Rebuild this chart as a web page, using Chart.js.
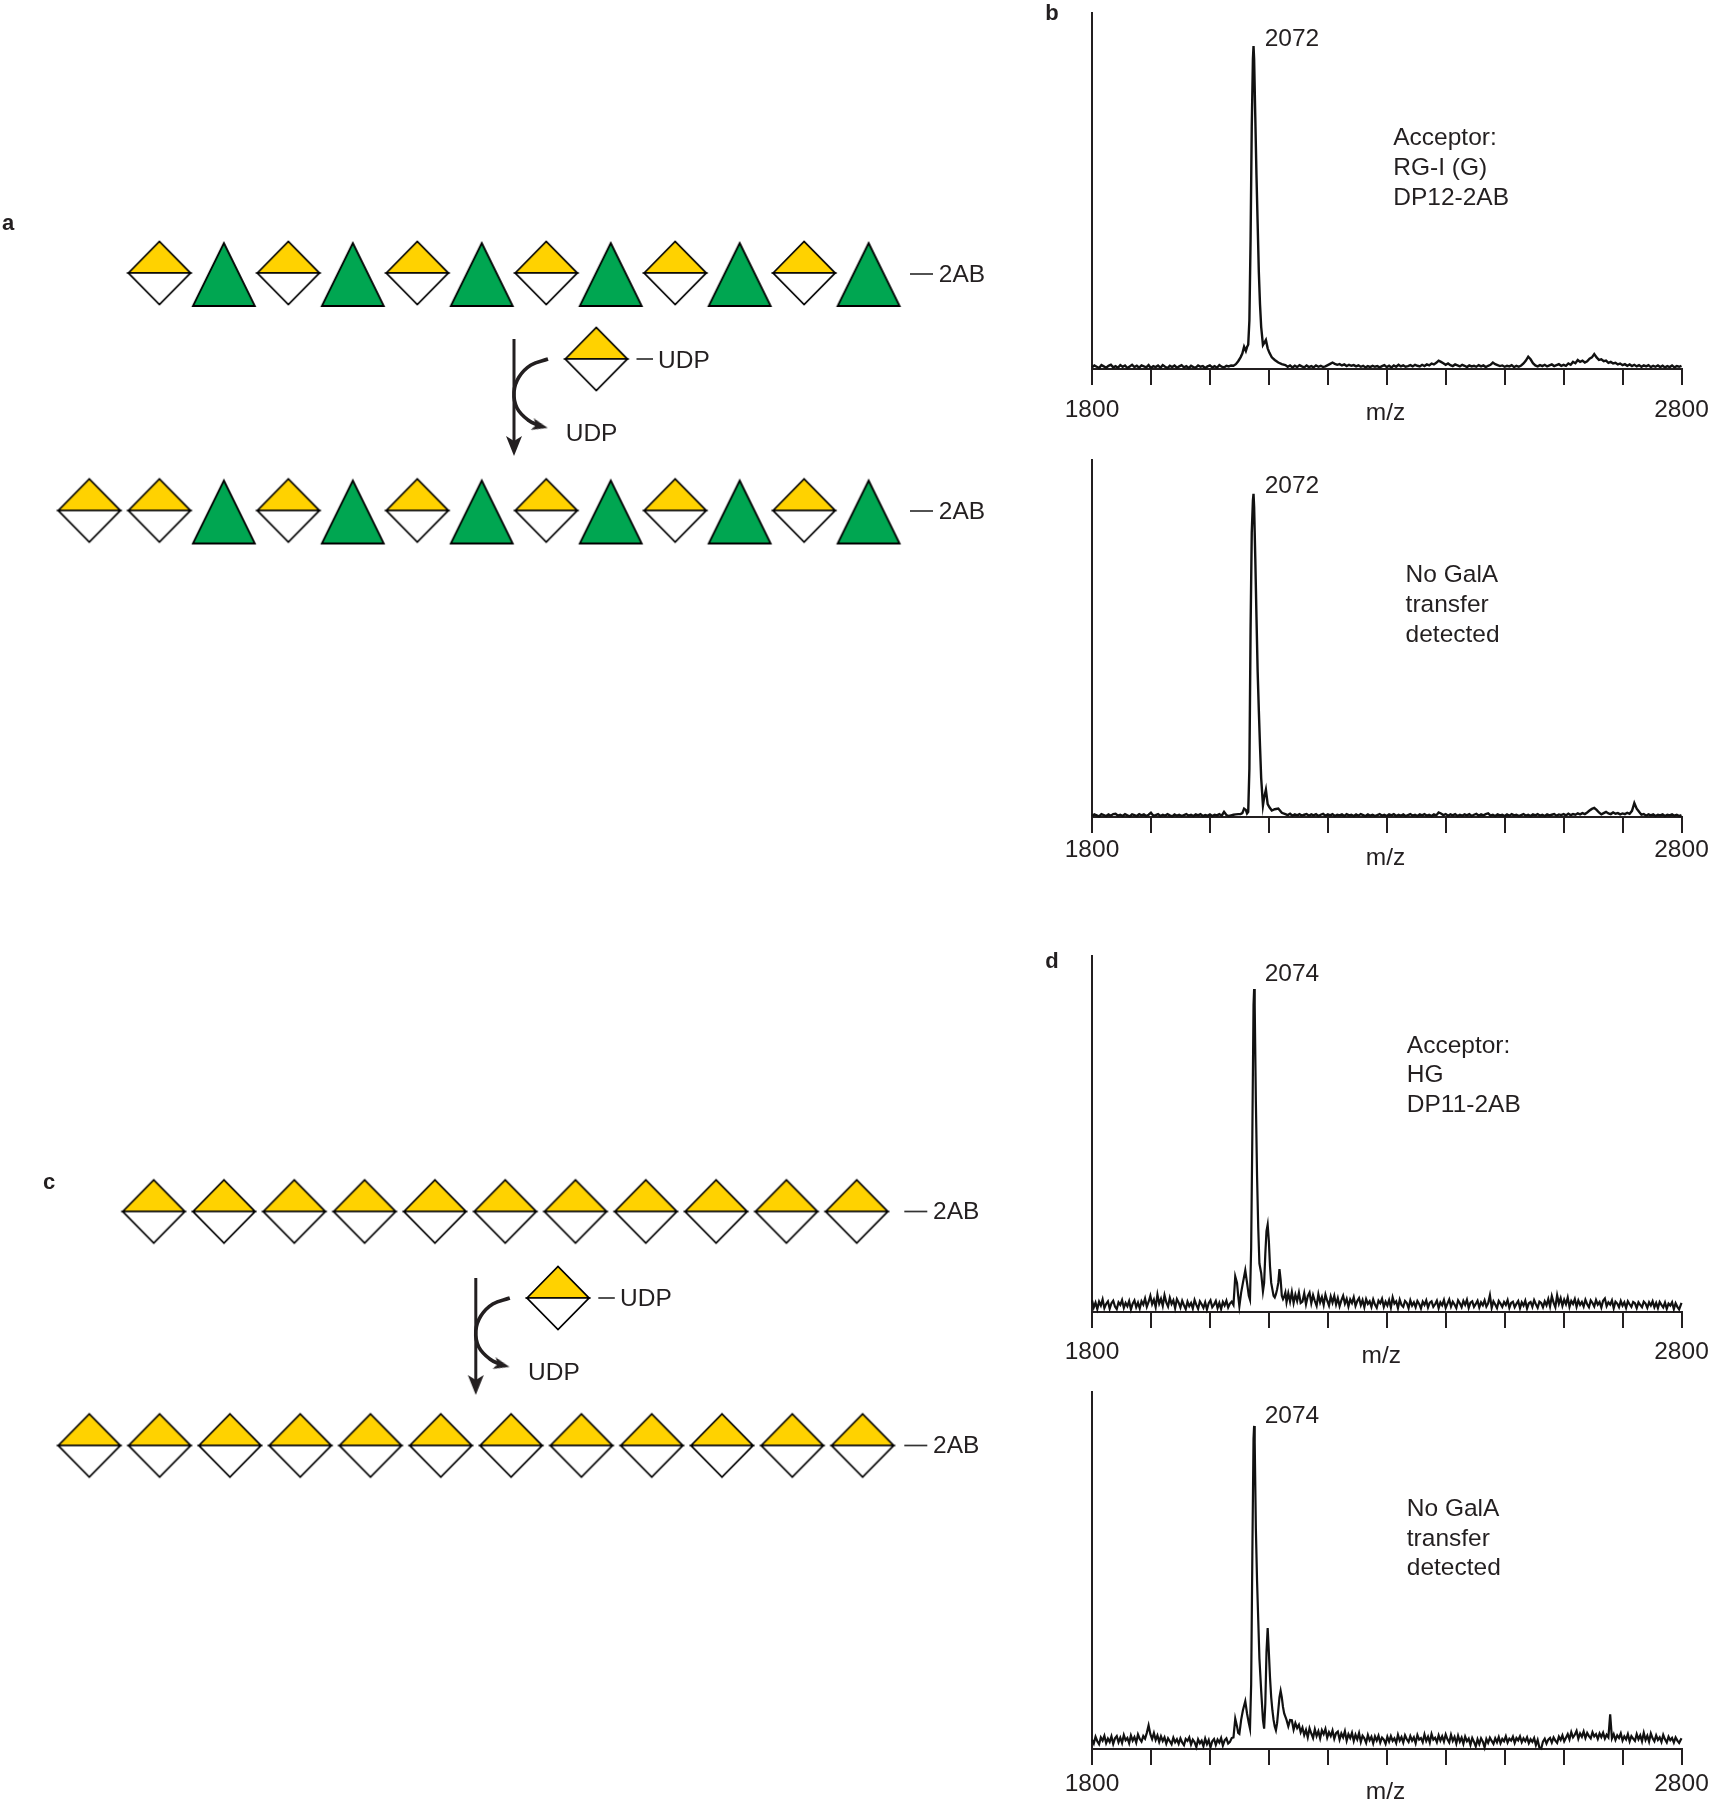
<!DOCTYPE html>
<html>
<head>
<meta charset="utf-8">
<title>GalA transfer</title>
<script src="https://cdn.jsdelivr.net/npm/chart.js@4"></script>
<style>
  html, body { margin: 0; background: #fff; overflow: hidden; height: 1800px; }
  canvas { position: absolute; display: block; }
</style>
</head>
<body>
<canvas id="scheme"></canvas>
<canvas id="specB1"></canvas>
<canvas id="specB2"></canvas>
<canvas id="specD1"></canvas>
<canvas id="specD2"></canvas>
<script>
// sugar chains, reducing end on the right
const rgAcceptor = ["GalA", "Rha", "GalA", "Rha", "GalA", "Rha", "GalA", "Rha", "GalA", "Rha", "GalA", "Rha"];
const rgProduct = ["GalA", "GalA", "Rha", "GalA", "Rha", "GalA", "Rha", "GalA", "Rha", "GalA", "Rha", "GalA", "Rha"];
const hgAcceptor = ["GalA", "GalA", "GalA", "GalA", "GalA", "GalA", "GalA", "GalA", "GalA", "GalA", "GalA"];
const hgProduct = ["GalA", "GalA", "GalA", "GalA", "GalA", "GalA", "GalA", "GalA", "GalA", "GalA", "GalA", "GalA"];
const donor = ["GalA"];

const tickLabels = { 1800: "1800", 2800: "2800" };

const bMz = [
  1800, 1804, 1808, 1812, 1816, 1820, 1824, 1828, 1832, 1836,
  1840, 1844, 1848, 1852, 1856, 1860, 1864, 1868, 1872, 1876,
  1880, 1884, 1888, 1892, 1896, 1900, 1904, 1908, 1912, 1916,
  1920, 1924, 1928, 1932, 1936, 1940, 1944, 1948, 1952, 1956,
  1960, 1964, 1968, 1972, 1976, 1980, 1984, 1988, 1992, 1996,
  2000, 2004, 2008, 2012, 2016, 2020, 2024, 2028, 2032, 2036,
  2040, 2044, 2048, 2052, 2055, 2058, 2061, 2063, 2065, 2067,
  2069, 2071, 2073, 2074, 2075, 2077, 2079, 2081, 2083, 2085,
  2087, 2090, 2092, 2095, 2098, 2101, 2105, 2110, 2116, 2122,
  2128, 2132, 2136, 2140, 2144, 2148, 2152, 2156, 2160, 2164,
  2168, 2172, 2176, 2180, 2184, 2188, 2192, 2196, 2200, 2204,
  2208, 2212, 2216, 2220, 2224, 2228, 2232, 2236, 2240, 2244,
  2248, 2252, 2256, 2260, 2264, 2268, 2272, 2276, 2280, 2284,
  2288, 2292, 2296, 2300, 2304, 2308, 2312, 2316, 2320, 2324,
  2328, 2332, 2336, 2340, 2344, 2348, 2352, 2356, 2360, 2364,
  2368, 2372, 2376, 2380, 2384, 2388, 2392, 2396, 2400, 2404,
  2408, 2412, 2416, 2420, 2424, 2428, 2432, 2436, 2440, 2444,
  2448, 2452, 2456, 2460, 2464, 2468, 2472, 2476, 2480, 2484,
  2488, 2492, 2496, 2500, 2504, 2508, 2512, 2516, 2520, 2524,
  2528, 2532, 2536, 2540, 2544, 2548, 2552, 2556, 2560, 2564,
  2568, 2572, 2576, 2580, 2584, 2588, 2592, 2596, 2600, 2604,
  2608, 2612, 2616, 2620, 2624, 2628, 2632, 2636, 2640, 2644,
  2648, 2652, 2656, 2660, 2664, 2668, 2672, 2676, 2680, 2684,
  2688, 2692, 2696, 2700, 2704, 2708, 2712, 2716, 2720, 2724,
  2728, 2732, 2736, 2740, 2744, 2748, 2752, 2756, 2760, 2764,
  2768, 2772, 2776, 2780, 2784, 2788, 2792, 2796, 2800
];
const b1Intensity = [
  0.5, 1.1, 0.7, 0.3, 1.2, 0.8, 0.4, 1.0, 1.3, 0.5,
  0.9, 0.4, 1.2, 0.7, 1.1, 0.3, 0.8, 1.3, 0.6, 1.0,
  0.4, 1.1, 0.8, 0.5, 1.2, 0.3, 0.9, 0.6, 1.1, 0.4,
  1.2, 0.7, 0.3, 1.0, 0.6, 1.1, 0.4, 0.8, 1.2, 0.5,
  0.9, 0.3, 1.0, 0.6, 0.4, 1.1, 0.7, 0.9, 0.3, 0.8,
  1.1, 0.5, 0.9, 0.4, 1.2, 0.7, 0.5, 1.0, 0.8, 1.1,
  1.0, 1.5, 2.4, 3.6, 4.8, 6.9, 5.6, 6.8, 7.5, 15,
  40, 75, 96, 100, 96, 78, 60, 45, 30, 20,
  13, 7.4, 8, 9, 6.4, 5, 3.6, 2.8, 2.0, 1.5,
  1.2, 0.7, 1.1, 0.5, 1.0, 0.6, 1.2, 0.8, 0.5, 1.1,
  0.6, 0.9, 0.5, 1.1, 0.7, 1.0, 0.6, 0.8, 1.2, 1.6,
  2.0, 1.6, 1.3, 1.5, 1.1, 1.4, 0.9, 1.3, 1.0, 1.2,
  0.8, 1.1, 0.7, 1.0, 0.5, 0.9, 0.6, 1.0, 0.7, 0.9,
  0.5, 0.9, 1.2, 0.6, 1.0, 0.5, 1.1, 0.7, 1.3, 0.8,
  1.1, 0.7, 0.9, 1.2, 0.8, 1.3, 1.0, 0.8, 1.3, 0.9,
  1.4, 1.1, 1.7, 1.4, 1.9, 2.6, 2.2, 1.8, 1.3, 1.7,
  1.2, 0.9, 1.4, 1.1, 0.8, 1.3, 1.0, 0.6, 1.1, 0.8,
  1.0, 0.7, 1.2, 0.8, 1.1, 0.6, 1.0, 1.3, 2.0, 1.5,
  1.2, 0.9, 1.1, 0.7, 1.0, 0.8, 1.2, 0.6, 1.0, 0.7,
  1.1, 1.7, 2.6, 3.8, 3.0, 1.8, 1.1, 0.8, 1.2, 0.9,
  1.3, 0.8, 1.1, 1.4, 0.9, 1.2, 1.5, 1.0, 1.3, 1.0,
  1.7, 1.3, 2.2, 1.8, 2.8, 2.2, 2.6, 2.0, 2.4, 3.2,
  3.6, 4.6, 3.6, 2.8, 3.0, 2.4, 2.6, 1.9, 2.2, 1.7,
  1.9, 1.4, 1.7, 1.2, 1.5, 1.0, 1.4, 0.9, 1.3, 0.8,
  1.2, 0.7, 1.1, 0.8, 1.2, 0.6, 1.0, 0.7, 1.1, 0.6,
  1.0, 0.5, 0.9, 0.6, 1.1, 0.5, 0.9, 0.7, 1.0
];
const b2Intensity = [
  0.3, 0.8, 0.5, 0.2, 0.9, 0.6, 0.3, 0.8, 0.4, 0.9,
  1.0, 0.4, 0.7, 0.3, 0.9, 0.5, 0.2, 0.8, 0.6, 0.3,
  0.9, 0.5, 0.8, 0.3, 0.7, 1.3, 0.4, 0.6, 0.9, 0.3,
  0.7, 0.4, 0.9, 0.5, 0.2, 0.8, 0.4, 0.7, 0.3, 0.6,
  0.9, 0.4, 0.7, 0.3, 0.8, 0.5, 0.9, 0.3, 0.6, 0.4,
  0.8, 0.3, 0.7, 0.5, 0.9, 0.4, 1.6, 0.6, 0.3, 0.5,
  0.7, 0.8, 0.9, 0.9, 1.2, 2.6, 2.2, 1.1, 1.6, 15,
  58, 88, 98, 100, 96, 80, 62, 45, 33, 22,
  12, 3.6, 6, 8.5, 4, 3, 2, 2.4, 2.6, 1.3,
  0.9, 0.6, 1.0, 0.4, 0.8, 0.5, 0.9, 0.4, 0.7, 0.9,
  0.4, 0.8, 0.5, 0.9, 0.3, 0.7, 1.0, 0.4, 0.8, 0.5,
  0.9, 0.3, 0.7, 0.5, 0.8, 0.3, 0.9, 0.5, 0.7, 0.3,
  0.8, 0.4, 0.9, 0.6, 0.3, 0.8, 0.4, 0.7, 0.3, 0.6,
  0.9, 0.4, 0.7, 0.3, 0.8, 0.5, 0.9, 0.3, 0.7, 0.4,
  0.8, 0.3, 0.6, 0.9, 0.4, 0.7, 0.3, 0.8, 0.5, 0.9,
  0.4, 0.7, 0.3, 0.8, 0.5, 1.4, 1.1, 0.6, 0.9, 0.4,
  0.8, 0.5, 0.9, 0.3, 0.7, 0.4, 0.8, 0.5, 0.9, 0.3,
  0.7, 1.0, 0.4, 0.8, 0.5, 0.9, 1.1, 0.4, 0.7, 0.3,
  0.8, 0.5, 0.7, 0.3, 0.8, 0.4, 0.9, 0.5, 0.7, 0.3,
  0.6, 0.9, 0.4, 0.7, 0.3, 0.8, 0.5, 0.9, 0.4, 0.7,
  0.3, 0.8, 0.5, 0.7, 0.9, 0.4, 0.8, 0.6, 0.9, 0.5,
  1.0, 0.6, 0.9, 0.7, 1.1, 0.8, 1.2, 0.9, 1.4, 2.0,
  2.5, 2.8, 2.2, 1.4, 0.8, 1.2, 1.6, 1.1, 0.9, 1.4,
  1.0, 1.2, 0.8, 1.1, 0.9, 1.3, 1.0, 1.9, 4.3, 2.6,
  1.6, 0.7, 0.9, 0.4, 0.8, 0.5, 0.8, 0.3, 0.7, 0.5,
  0.8, 0.3, 0.7, 0.5, 0.8, 0.4, 0.7, 0.3, 0.6
];

const dMz = [
  1800, 1803, 1806, 1809, 1812, 1815, 1818, 1821, 1824, 1827,
  1830, 1833, 1836, 1839, 1842, 1845, 1848, 1851, 1854, 1857,
  1860, 1863, 1866, 1869, 1872, 1875, 1878, 1881, 1884, 1887,
  1890, 1893, 1896, 1899, 1902, 1905, 1908, 1911, 1914, 1917,
  1920, 1923, 1926, 1929, 1932, 1935, 1938, 1941, 1944, 1947,
  1950, 1953, 1956, 1959, 1962, 1965, 1968, 1971, 1974, 1977,
  1980, 1983, 1986, 1989, 1992, 1995, 1998, 2001, 2004, 2007,
  2010, 2013, 2016, 2019, 2022, 2025, 2028, 2031, 2034, 2037,
  2040, 2043, 2046, 2048, 2050, 2053, 2056, 2060, 2063, 2066,
  2068, 2070, 2072, 2074, 2075, 2076, 2078, 2080, 2082, 2084,
  2087, 2090, 2092, 2094, 2096, 2098, 2100, 2102, 2104, 2106,
  2108, 2110, 2112, 2114, 2116, 2118, 2120, 2122, 2124, 2126,
  2128, 2130, 2133, 2136, 2139, 2142, 2145, 2148, 2151, 2154,
  2157, 2160, 2163, 2166, 2169, 2172, 2175, 2178, 2181, 2184,
  2187, 2190, 2193, 2196, 2199, 2202, 2205, 2208, 2211, 2214,
  2217, 2220, 2223, 2226, 2229, 2232, 2235, 2238, 2241, 2244,
  2247, 2250, 2253, 2256, 2259, 2262, 2265, 2268, 2271, 2274,
  2277, 2280, 2283, 2286, 2289, 2292, 2295, 2298, 2301, 2304,
  2307, 2310, 2313, 2316, 2319, 2322, 2325, 2328, 2331, 2334,
  2337, 2340, 2343, 2346, 2349, 2352, 2355, 2358, 2361, 2364,
  2367, 2370, 2373, 2376, 2379, 2382, 2385, 2388, 2391, 2394,
  2397, 2400, 2403, 2406, 2409, 2412, 2415, 2418, 2421, 2424,
  2427, 2430, 2433, 2436, 2439, 2442, 2445, 2448, 2451, 2454,
  2457, 2460, 2463, 2466, 2469, 2472, 2475, 2478, 2481, 2484,
  2487, 2490, 2493, 2496, 2499, 2502, 2505, 2508, 2511, 2514,
  2517, 2520, 2523, 2526, 2529, 2532, 2535, 2538, 2541, 2544,
  2547, 2550, 2553, 2556, 2559, 2562, 2565, 2568, 2571, 2574,
  2577, 2580, 2583, 2586, 2589, 2592, 2595, 2598, 2601, 2604,
  2607, 2610, 2613, 2616, 2619, 2622, 2625, 2628, 2631, 2634,
  2637, 2640, 2643, 2646, 2649, 2652, 2655, 2658, 2661, 2664,
  2667, 2670, 2673, 2676, 2679, 2682, 2685, 2688, 2691, 2694,
  2697, 2700, 2703, 2706, 2709, 2712, 2715, 2718, 2721, 2724,
  2727, 2730, 2733, 2736, 2739, 2742, 2745, 2748, 2751, 2754,
  2757, 2760, 2763, 2766, 2769, 2772, 2775, 2778, 2781, 2784,
  2787, 2790, 2793, 2796, 2800
];
const d1Intensity = [
  3.6, 1.4, 2.9, 0.9, 3.2, 2.0, 3.9, 1.2, 2.5, 3.3,
  1.0, 2.7, 3.5, 1.7, 0.9, 3.0, 2.2, 3.7, 1.3, 2.8,
  1.8, 3.4, 0.8, 2.6, 3.6, 1.5, 2.9, 1.1, 3.3, 2.3,
  4.2, 1.6, 3.1, 5.0, 2.4, 3.8, 1.5, 5.4, 2.6, 4.1,
  1.9, 5.2, 3.0, 1.7, 4.4, 2.5, 3.6, 1.2, 4.0, 2.9,
  1.4, 3.5, 2.1, 0.9, 3.2, 1.8, 2.8, 1.1, 3.7, 2.2,
  1.0, 3.3, 2.4, 1.3, 3.0, 0.8, 2.7, 3.6, 1.5, 2.3,
  3.4, 1.2, 2.8, 0.9, 3.1, 2.0, 3.5, 1.4, 2.6, 3.2,
  2.2, 11, 9, 5, 1.8, 6, 9, 12.9, 9, 5,
  3.8, 20, 55, 95, 100, 95, 65, 42, 26, 15,
  12, 6.4, 9, 18, 25, 27, 22, 14, 9, 7,
  5, 4.5, 5.5, 7, 9, 13.3, 10, 5, 4, 4.8,
  6, 3, 5.8, 3.2, 6.2, 2.8, 5.4, 3.4, 6, 2.8,
  3.2, 5.8, 2.4, 4.9, 6.0, 2.7, 5.2, 3.4, 1.9, 5.5,
  3.0, 4.6, 2.2, 5.4, 3.5, 2.0, 4.8, 2.9, 5.0, 2.3,
  4.3, 1.8, 3.6, 5.0, 2.6, 4.1, 1.7, 3.9, 2.8, 4.6,
  1.9, 3.4, 4.3, 2.1, 3.7, 1.5, 4.0, 2.5, 3.3, 1.6,
  3.9, 2.3, 1.3, 3.5, 2.7, 4.1, 1.6, 3.2, 2.0, 3.7,
  1.4, 4.5, 2.6, 3.3, 1.2, 3.8, 2.2, 1.6, 3.4, 2.8,
  1.2, 3.6, 2.0, 3.0, 1.5, 3.4, 2.5, 1.1, 3.2, 2.2,
  3.6, 1.4, 2.9, 3.3, 1.6, 2.4, 3.5, 1.2, 3.0, 2.1,
  3.7, 1.3, 2.6, 3.9, 1.7, 3.2, 2.3, 1.2, 3.6, 2.7,
  1.5, 3.4, 2.2, 3.8, 1.3, 2.9, 3.3, 1.6, 2.5, 3.5,
  1.4, 3.0, 2.1, 3.6, 1.7, 2.7, 5.2, 1.3, 3.3, 2.3,
  1.2, 3.4, 2.6, 1.6, 3.1, 2.2, 3.7, 1.3, 2.8, 3.2,
  1.5, 2.5, 3.4, 1.2, 3.0, 2.0, 3.5, 1.1, 2.7, 3.1,
  1.6, 3.7, 2.4, 1.3, 3.2, 2.8, 1.5, 3.3, 2.1, 4.0,
  1.7, 4.9, 2.9, 1.5, 5.2, 2.6, 4.3, 1.9, 3.8, 2.4,
  4.5, 1.6, 3.4, 2.5, 4.0, 1.6, 3.6, 2.2, 3.1, 1.7,
  3.8, 2.4, 1.5, 3.6, 2.8, 1.7, 3.7, 2.3, 3.1, 1.4,
  3.5, 4.2, 1.8, 3.0, 2.3, 3.6, 1.2, 3.2, 2.6, 1.5,
  3.4, 2.0, 3.0, 1.3, 3.3, 2.4, 1.6, 3.1, 2.7, 1.2,
  3.0, 2.2, 1.5, 3.2, 2.6, 1.3, 3.0, 2.0, 3.3, 1.5,
  2.8, 1.2, 3.1, 2.2, 1.4, 2.9, 1.0, 2.6, 2.0, 3.0,
  0.9, 2.7, 1.6, 0.8, 2.8
];
const d2Intensity = [
  2.9, 1.7, 3.8, 2.4, 1.5, 3.6, 2.6, 4.1, 1.8, 3.2,
  2.2, 3.9, 1.6, 3.3, 4.0, 2.1, 3.5, 1.9, 4.3, 2.7,
  3.4, 1.8, 4.2, 2.6, 3.7, 2.0, 4.5, 3.1, 2.3, 4.0,
  3.2, 5.0, 7.3, 4.6, 3.1, 4.9, 2.8, 4.2, 2.2, 3.9,
  2.5, 3.6, 1.7, 3.3, 2.4, 1.5, 3.5, 2.1, 3.0, 1.6,
  3.3, 2.0, 1.2, 3.1, 2.5, 3.6, 1.4, 2.9, 2.1, 0.6,
  3.0, 1.8, 2.6, 0.9, 3.2, 1.5, 2.8, 0.5, 2.4, 3.1,
  1.3, 2.9, 2.0, 3.4, 1.1, 2.7, 3.3, 1.7, 2.2, 3.4,
  3.6, 9.4, 7, 5, 4.7, 9, 12, 14.8, 11, 8,
  6.3, 20, 60, 96, 100, 95, 68, 52, 40, 28,
  18, 9, 6.3, 14, 30, 37.4, 30, 22, 16, 12,
  9, 7, 5.8, 8, 12, 16, 18, 16, 13, 11,
  10, 9, 7, 9, 8.9, 6, 8, 6.5, 7.5, 5.2,
  6.6, 4.3, 5.9, 3.6, 6.4, 4.8, 3.4, 6.1, 4.0, 5.5,
  3.3, 5.8, 4.6, 6.2, 3.5, 5.2, 4.0, 5.7, 3.2, 4.9,
  5.4, 2.9, 4.8, 3.6, 5.5, 2.6, 4.6, 3.4, 5.0, 2.5,
  4.4, 3.0, 4.9, 2.2, 4.1, 3.3, 1.9, 4.3, 2.7, 3.8,
  1.8, 3.9, 2.6, 4.1, 2.0, 3.5, 2.9, 1.6, 3.8, 2.3,
  4.0, 2.5, 3.3, 1.9, 4.4, 2.6, 3.7, 2.0, 4.2, 3.0,
  2.2, 4.0, 2.6, 3.6, 1.8, 4.3, 2.9, 3.4, 2.1, 4.5,
  2.5, 3.8, 2.0, 4.6, 2.9, 3.5, 2.1, 4.2, 2.6, 3.9,
  2.3, 4.5, 3.0, 2.0, 4.4, 2.5, 3.7, 1.7, 4.1, 2.3,
  3.5, 1.6, 3.8, 2.4, 3.2, 1.3, 3.4, 2.2, 0.8, 3.0,
  1.5, 3.3, 2.3, 0.5, 3.1, 1.9, 3.5, 2.5, 1.6, 3.3,
  2.1, 3.7, 1.8, 3.1, 2.4, 3.9, 2.0, 3.2, 2.6, 3.8,
  1.9, 3.4, 2.7, 3.9, 2.1, 3.3, 2.4, 3.6, 1.8, 3.0,
  2.2, 3.4, 1.2, 2.8, 0.4, 0.1, 2.3, 3.2, 1.7, 2.9,
  3.4, 2.0, 3.6, 2.6, 1.9, 3.8, 2.8, 4.2, 2.4, 3.5,
  4.6, 3.0, 5.2, 3.6, 4.4, 5.6, 3.2, 4.8, 3.8, 5.4,
  3.4, 5.0, 4.0, 3.3, 5.2, 3.9, 4.6, 3.1, 4.8, 3.7,
  5.0, 3.2, 4.4, 3.6, 10.7, 3.3, 4.6, 2.8, 4.2, 3.4,
  4.8, 2.6, 3.9, 3.0, 4.6, 2.4, 4.0, 3.2, 2.5, 4.6,
  3.0, 4.2, 2.4, 5.0, 2.8, 4.1, 2.3, 4.8, 3.3, 2.4,
  4.2, 2.8, 3.6, 2.2, 4.4, 3.0, 2.0, 3.8, 2.7, 3.4,
  2.0, 3.6, 2.6, 1.9, 3.3
];

const INK = "#231f20";
const FAMILY = "'Liberation Sans', Arial, sans-serif";
const FONT = "24.5px " + FAMILY;
const BOLD = "bold 22px " + FAMILY;

function makeImage(w, h, paint) {
  const c = document.createElement("canvas");
  c.width = w;
  c.height = h;
  paint(c.getContext("2d"));
  return c;
}

function polygon(ctx, pts, fill, lw) {
  ctx.beginPath();
  pts.forEach((p, i) => (i ? ctx.lineTo(p[0], p[1]) : ctx.moveTo(p[0], p[1])));
  ctx.closePath();
  ctx.fillStyle = fill;
  ctx.fill();
  if (lw) {
    ctx.lineWidth = lw;
    ctx.lineJoin = "miter";
    ctx.strokeStyle = "#000";
    ctx.stroke();
  }
}

const galaImage = makeImage(68, 68, (ctx) => {
  polygon(ctx, [[3, 34], [34, 2.5], [65, 34]], "#ffd200", 1.7);
  polygon(ctx, [[3, 34], [65, 34], [34, 65.5]], "#fff", 1.7);
});
const rhaImage = makeImage(72, 72, (ctx) => {
  polygon(ctx, [[36, 6], [67, 69], [5, 69]], "#00a651", 1.8);
});
// arrowheads point to the right, rotation turns them
const bigHead = makeImage(22, 18, (ctx) => {
  polygon(ctx, [[21, 9], [1, 1], [6, 9], [1, 17]], INK, 0);
});
const smallHead = makeImage(18, 14, (ctx) => {
  polygon(ctx, [[17, 7], [1, 1], [5, 7], [1, 13]], INK, 0);
});

function notesPlugin(notes) {
  // text placed in data units of the chart
  return {
    id: "notes",
    afterDraw(chart) {
      const ctx = chart.ctx;
      ctx.save();
      ctx.fillStyle = INK;
      ctx.textBaseline = "middle";
      notes.forEach((n) => {
        ctx.font = n.font || FONT;
        ctx.textAlign = n.align || "left";
        ctx.fillText(n.text, chart.scales.x.getPixelForValue(n.x), chart.scales.y.getPixelForValue(n.y));
      });
      ctx.restore();
    },
  };
}

function placeCanvas(id, left, top, width, height) {
  const c = document.getElementById(id);
  c.width = width;
  c.height = height;
  c.style.left = left + "px";
  c.style.top = top + "px";
  return c;
}

function plotSpectrum(id, box, mz, intensity, notes) {
  const canvas = placeCanvas(id, 1040, box.top, 672, box.height);
  new Chart(canvas, {
    type: "line",
    data: {
      datasets: [
        {
          data: mz.map((m, i) => ({ x: m, y: intensity[i] })),
          borderColor: "#111",
          borderWidth: box.lineWidth,
          pointRadius: 0,
          tension: 0,
          clip: false,
        },
      ],
    },
    options: {
      responsive: false,
      animation: false,
      layout: { autoPadding: false, padding: { left: 52, right: 30.5, top: box.padTop, bottom: 0 } },
      plugins: { legend: { display: false }, tooltip: { enabled: false } },
      scales: {
        x: {
          type: "linear",
          min: 1800,
          max: 2800,
          grid: { drawOnChartArea: false, drawTicks: true, tickLength: 16, color: INK, lineWidth: 2 },
          border: { display: true, color: INK, width: 2 },
          ticks: {
            stepSize: 100,
            autoSkip: false,
            maxRotation: 0,
            padding: box.tickPad,
            color: INK,
            font: { family: FAMILY, size: 24.5 },
            callback: (v) => tickLabels[v] || "",
          },
          afterFit: (s) => {
            s.height = box.axisHeight;
            s.paddingLeft = 0;
            s.paddingRight = 0;
          },
        },
        y: {
          min: 0,
          max: box.yMax,
          grid: { display: false },
          ticks: { display: false },
          border: { display: true, color: INK, width: 2 },
          afterFit: (s) => {
            s.width = 0;
          },
        },
      },
    },
    plugins: [notesPlugin(notes)],
  });
}

function chainDatasets(rows) {
  // one point per residue, GalA and Rha kept apart because of their symbols
  const gala = [];
  const rha = [];
  rows.forEach((row) => {
    row.seq.forEach((residue, i) => {
      const x = row.lead ? (i === 0 ? row.x : row.x + row.lead + (i - 1) * row.step) : row.x + i * row.step;
      (residue === "GalA" ? gala : rha).push({ x: x, y: row.y });
    });
  });
  return [
    { data: gala, pointStyle: galaImage, pointRadius: 1, showLine: false, clip: false },
    { data: rha, pointStyle: rhaImage, pointRadius: 1, showLine: false, clip: false },
  ];
}

function linkerLine(x1, x2, y) {
  return {
    data: [{ x: x1, y: y }, { x: x2, y: y }],
    showLine: true,
    borderColor: "#333",
    borderWidth: 1.7,
    pointRadius: 0,
    clip: false,
  };
}

function reactionDatasets(x, y) {
  // long arrow, curved arrow and the linker of the donor
  return [
    {
      data: [{ x: x, y: y - 20 }, { x: x, y: y + 84 }],
      showLine: true,
      borderColor: INK,
      borderWidth: 3,
      pointRadius: 0,
      clip: false,
    },
    { data: [{ x: x, y: y + 87 }], pointStyle: bigHead, pointRadius: 1, pointRotation: 90, showLine: false, clip: false },
    {
      data: [
        { x: x + 34, y: y },
        { x: x + 17, y: y + 6 },
        { x: x + 5, y: y + 18 },
        { x: x, y: y + 33 },
        { x: x + 3, y: y + 49 },
        { x: x + 14, y: y + 61 },
        { x: x + 26, y: y + 67 },
      ],
      showLine: true,
      tension: 0.4,
      borderColor: INK,
      borderWidth: 3.6,
      pointRadius: 0,
      clip: false,
    },
    { data: [{ x: x + 26, y: y + 67 }], pointStyle: smallHead, pointRadius: 1, pointRotation: 14, showLine: false, clip: false },
    linkerLine(x + 122.5, x + 139, y),
  ];
}

function plotScheme() {
  const canvas = placeCanvas("scheme", 0, 0, 1040, 1800);
  const rows = [
    { seq: rgAcceptor, x: 159.4, step: 64.47, y: 273 },
    { seq: rgProduct, x: 89.3, lead: 70.1, step: 64.47, y: 510.5 },
    { seq: donor, x: 596.3, step: 0, y: 359 },
    { seq: hgAcceptor, x: 153.7, step: 70.3, y: 1211.5 },
    { seq: hgProduct, x: 89.3, step: 70.3, y: 1445.5 },
    { seq: donor, x: 558, step: 0, y: 1298 },
  ];
  const notes = [
    { text: "a", x: 8, y: 224, font: BOLD, align: "center" },
    { text: "c", x: 49, y: 1183, font: BOLD, align: "center" },
    { text: "2AB", x: 938.8, y: 275.2 },
    { text: "2AB", x: 938.8, y: 512.5 },
    { text: "2AB", x: 933, y: 1212.2 },
    { text: "2AB", x: 933, y: 1446.2 },
    { text: "UDP", x: 658, y: 361 },
    { text: "UDP", x: 565.7, y: 434 },
    { text: "UDP", x: 620, y: 1299 },
    { text: "UDP", x: 528, y: 1373 },
  ];
  new Chart(canvas, {
    type: "scatter",
    data: {
      datasets: [
        ...reactionDatasets(514, 359),
        ...reactionDatasets(475.8, 1298),
        ...chainDatasets(rows),
        linkerLine(910, 933, 274),
        linkerLine(910, 933, 511),
        linkerLine(904.3, 927.3, 1211.5),
        linkerLine(904.3, 927.3, 1445.5),
      ],
    },
    options: {
      responsive: false,
      animation: false,
      layout: { autoPadding: false, padding: 0 },
      plugins: { legend: { display: false }, tooltip: { enabled: false } },
      scales: {
        x: { type: "linear", min: 0, max: 1040, display: false },
        y: { type: "linear", min: 0, max: 1800, reverse: true, display: false },
      },
    },
    plugins: [notesPlugin(notes)],
  });
}

plotScheme();
plotSpectrum("specB1", { top: 0, height: 440, padTop: 13, axisHeight: 71, yMax: 110.2, tickPad: 10.5, lineWidth: 2.4 }, bMz, b1Intensity, [
  { text: "b", x: 1732, y: 110, font: BOLD, align: "center" },
  { text: "2072", x: 2093, y: 102.1 },
  { text: "Acceptor:", x: 2311, y: 71.5 },
  { text: "RG-I (G)", x: 2311, y: 62.2 },
  { text: "DP12-2AB", x: 2311, y: 52.9 },
  { text: "m/z", x: 2298, y: -13.6, align: "center" },
]);
plotSpectrum("specB2", { top: 445, height: 435, padTop: 15, axisHeight: 63, yMax: 110.5, tickPad: 2.5, lineWidth: 2.4 }, bMz, b2Intensity, [
  { text: "2072", x: 2093, y: 102.5 },
  { text: "No GalA", x: 2332, y: 74.9 },
  { text: "transfer", x: 2332, y: 65.6 },
  { text: "detected", x: 2332, y: 56.4 },
  { text: "m/z", x: 2298, y: -12.8, align: "center" },
]);
plotSpectrum("specD1", { top: 940, height: 440, padTop: 16, axisHeight: 68, yMax: 110.2, tickPad: 9.5, lineWidth: 2.2 }, dMz, d1Intensity, [
  { text: "d", x: 1732, y: 108.4, font: BOLD, align: "center" },
  { text: "2074", x: 2093, y: 104.6 },
  { text: "Acceptor:", x: 2334, y: 82.4 },
  { text: "HG", x: 2334, y: 73.2 },
  { text: "DP11-2AB", x: 2334, y: 64.1 },
  { text: "m/z", x: 2290.7, y: -13.8, align: "center" },
]);
plotSpectrum("specD2", { top: 1380, height: 435, padTop: 12, axisHeight: 66, yMax: 110.5, tickPad: 4.5, lineWidth: 2.2 }, dMz, d2Intensity, [
  { text: "2074", x: 2093, y: 103 },
  { text: "No GalA", x: 2334, y: 74.3 },
  { text: "transfer", x: 2334, y: 65 },
  { text: "detected", x: 2334, y: 55.9 },
  { text: "m/z", x: 2298, y: -13.3, align: "center" },
]);
</script>
</body>
</html>
